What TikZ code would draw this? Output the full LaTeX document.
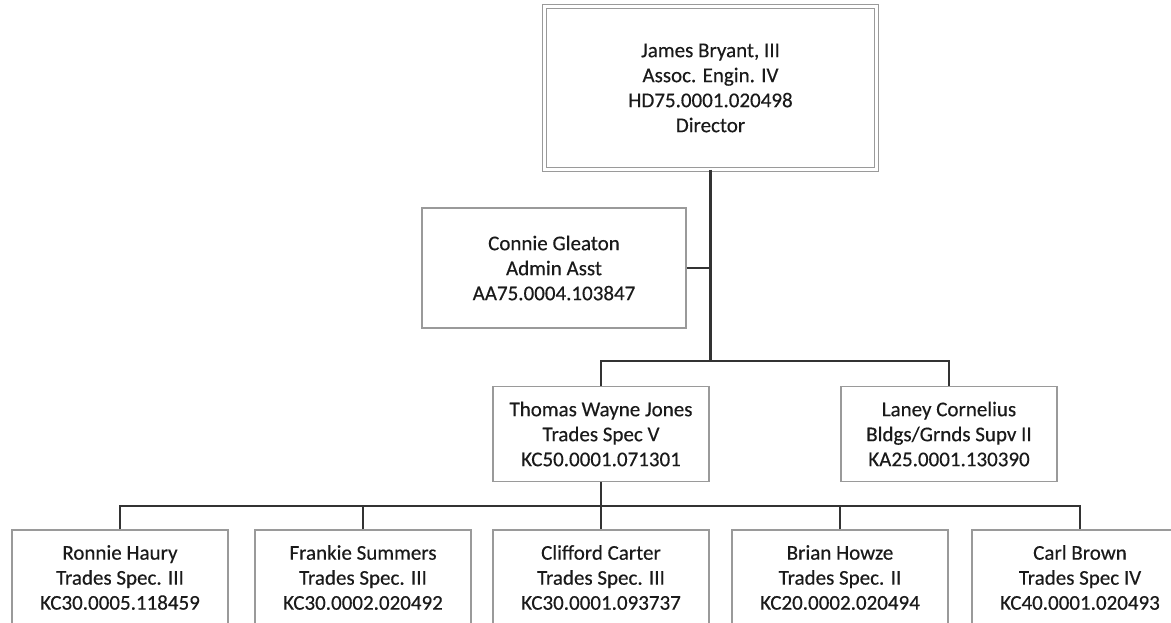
\documentclass[tikz,border=0pt]{standalone}
\usepackage{fontspec}
\setmainfont{Carlito}[FakeBold=0.35]
\definecolor{boxgray}{HTML}{9A9A9A}
\definecolor{linegray}{HTML}{333333}
\definecolor{txt}{HTML}{1A1A1A}
\begin{document}
\begin{tikzpicture}[x=1pt,y=-1pt,
  person/.style={draw=boxgray, line width=1.2pt, fill=white, rectangle, align=center,
    text=txt, font=\fontsize{21pt}{25pt}\selectfont, inner sep=0pt,
    minimum width=216pt, minimum height=95pt},
  link/.style={draw=linegray, line width=2.2pt}]
\useasboundingbox (0,0) rectangle (1171,623);
\clip (0,0) rectangle (1171,623);
\fill[white] (0,0) rectangle (1171,623);

\node[person, minimum width=332pt, minimum height=163pt, double=white, double distance=3.6pt, line width=1pt] (dir) at (710.5,88)
  {James Bryant, III\\Assoc. Engin. IV\\HD75.0001.020498\\Director};
\node[person, minimum width=264pt, minimum height=120pt] (admin) at (554,268)
  {Connie Gleaton\\Admin Asst\\AA75.0004.103847};
\node[person] (thomas) at (601,434) {Thomas Wayne Jones\\Trades Spec V\\KC50.0001.071301};
\node[person] (laney) at (949,434) {Laney Cornelius\\Bldgs/Grnds Supv II\\KA25.0001.130390};

\node[person] (ronnie) at (120,577.5) {Ronnie Haury\\Trades Spec. III\\KC30.0005.118459};
\node[person] (frankie) at (363,577.5) {Frankie Summers\\Trades Spec. III\\KC30.0002.020492};
\node[person] (clifford) at (601,577.5) {Clifford Carter\\Trades Spec. III\\KC30.0001.093737};
\node[person] (brian) at (840,577.5) {Brian Howze\\Trades Spec. II\\KC20.0002.020494};
\node[person] (carl) at (1080,577.5) {Carl Brown\\Trades Spec IV\\KC40.0001.020493};

\coordinate (b1) at (710.5,361);
\coordinate (b2) at (601,506);

\draw[link] (dir.south) -- (b1);
\draw[link] (admin.east) -- (admin.east -| dir.south);
\draw[link] (thomas.north) |- (b1) -| (laney.north);
\draw[link] (thomas.south) -- (clifford.north);
\draw[link] (ronnie.north) |- (b2) -| (carl.north);
\draw[link] (frankie.north) -- (frankie.north |- b2);
\draw[link] (brian.north) -- (brian.north |- b2);
\end{tikzpicture}
\end{document}
